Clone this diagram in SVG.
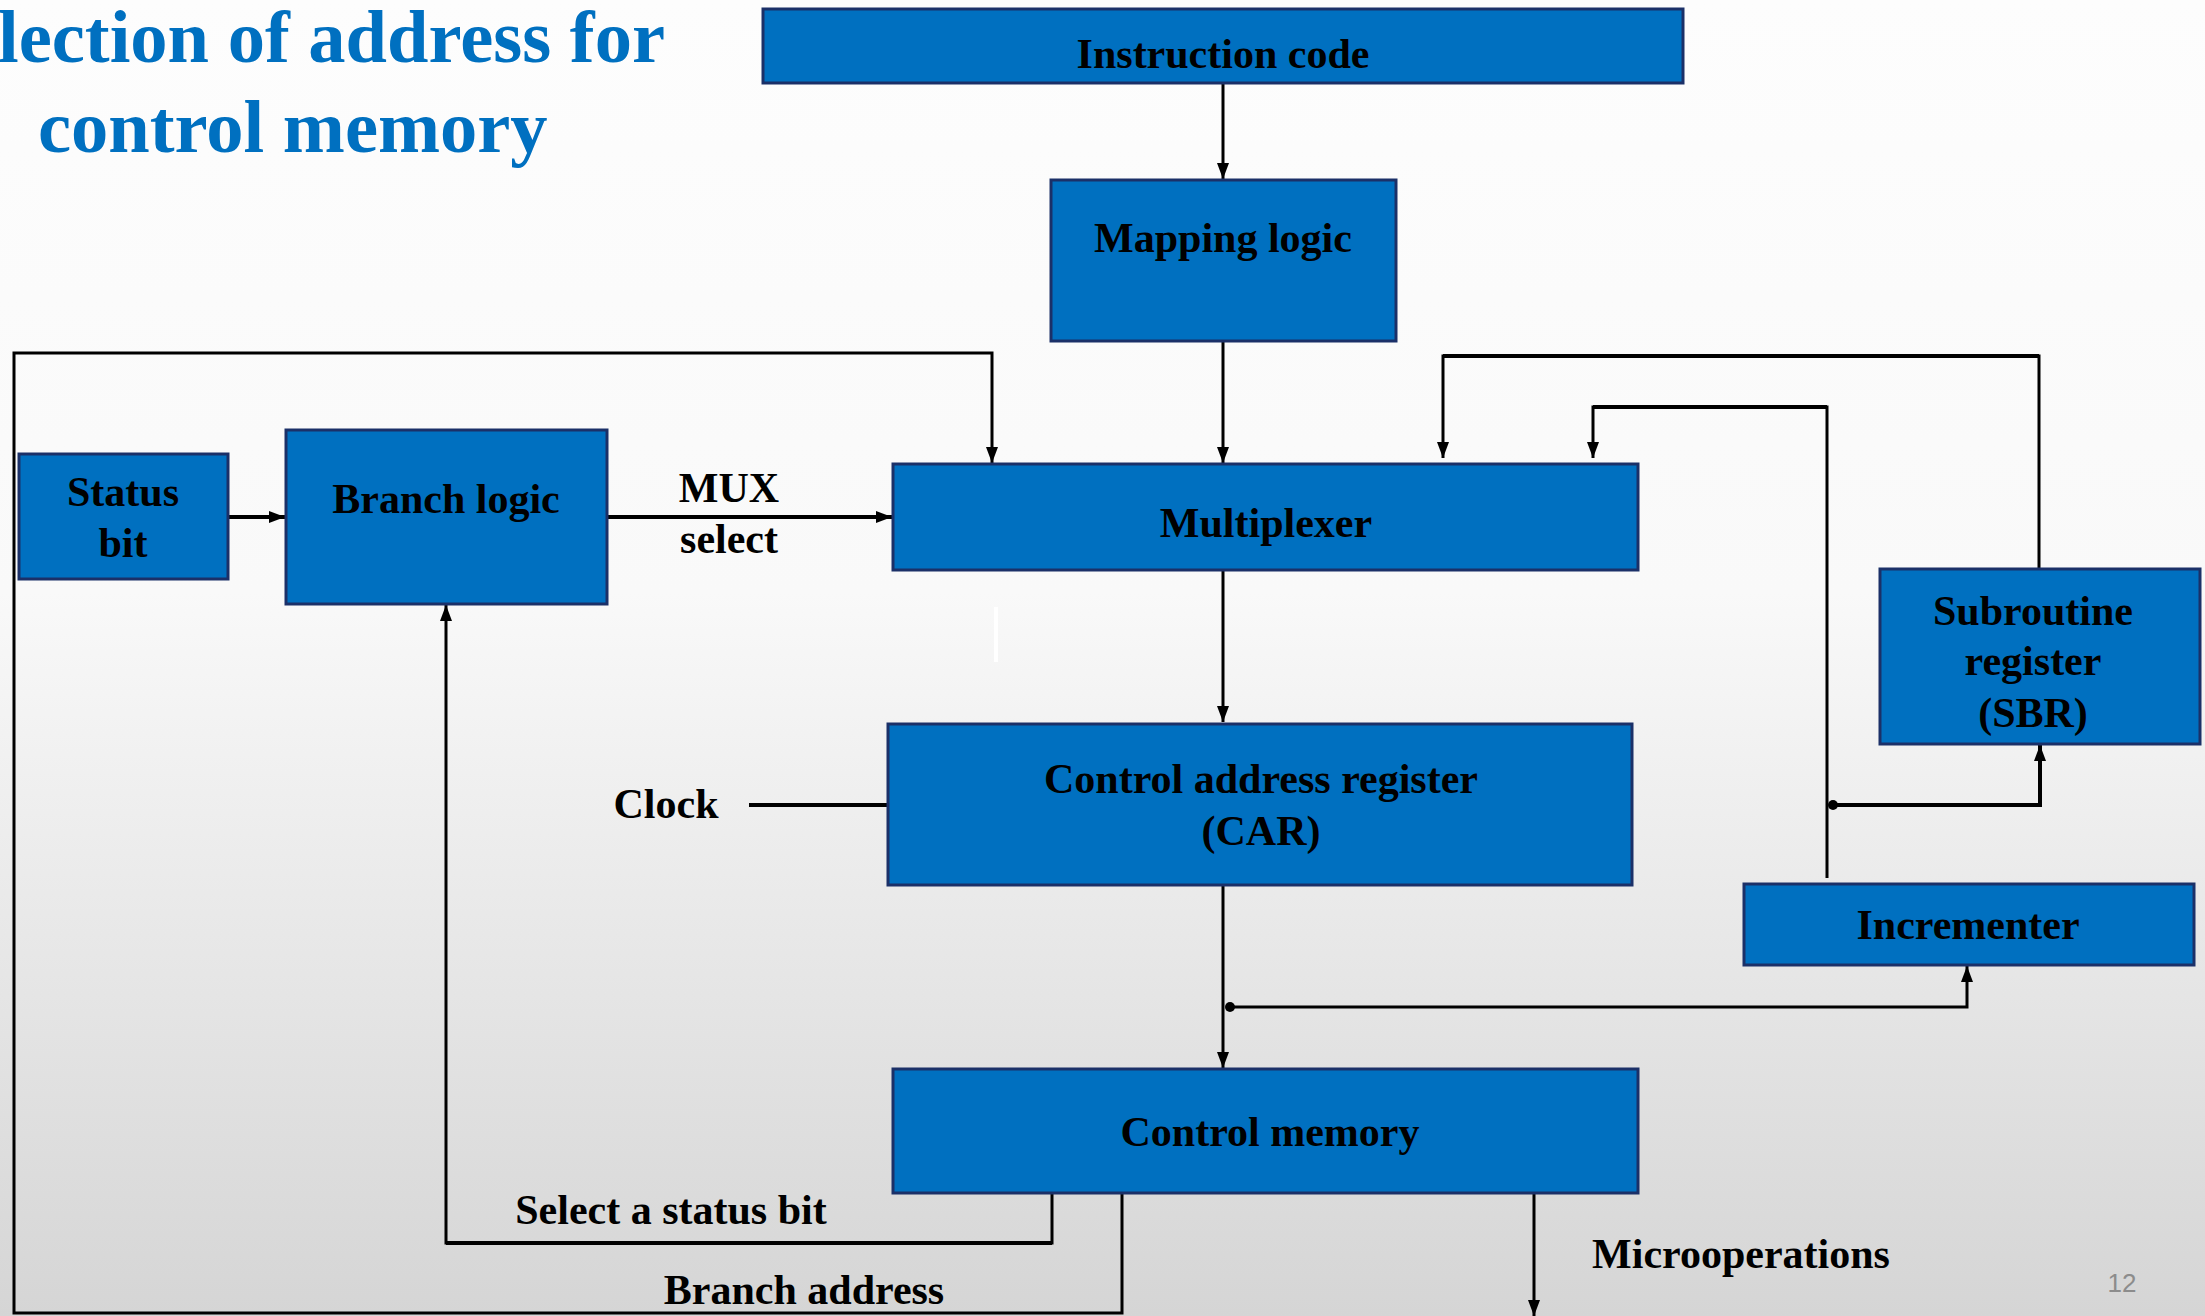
<svg xmlns="http://www.w3.org/2000/svg" width="2205" height="1316" viewBox="0 0 2205 1316">
<defs>
<linearGradient id="bg" x1="0" y1="0" x2="0" y2="1">
<stop offset="0" stop-color="#fdfdfd"/>
<stop offset="0.45" stop-color="#f9f9f9"/>
<stop offset="1" stop-color="#d5d5d5"/>
</linearGradient>
<marker id="ah" markerUnits="userSpaceOnUse" markerWidth="17" markerHeight="13" refX="16" refY="6.5" orient="auto">
<path d="M0,0.5 L16,6.5 L0,12.5 z" fill="#000"/>
</marker>
</defs>
<style>
.box{fill:#0070C0;stroke:#1B3068;stroke-width:3}
.lbl{font-family:"Liberation Serif","Times New Roman",serif;font-weight:bold;font-size:42px;fill:#000;text-anchor:middle}
.title{font-family:"Liberation Serif","Times New Roman",serif;font-weight:bold;font-size:74.5px;fill:#0070C0}
.ln{fill:none;stroke:#000;stroke-width:3}
.thk{stroke-width:4}
</style>
<rect x="0" y="0" width="2205" height="1316" fill="url(#bg)"/>
<text class="title" x="-2" y="62">lection of address for</text>
<text class="title" x="38" y="152">control memory</text>
<rect x="994" y="607" width="4" height="55" fill="#ffffff"/>

<g id="connectors">
<path class="ln" d="M1223,83 V179" marker-end="url(#ah)"/>
<path class="ln" d="M1223,341 V463" marker-end="url(#ah)"/>
<path class="ln thk" d="M228,517 H285" marker-end="url(#ah)"/>
<path class="ln thk" d="M607,517 H892" marker-end="url(#ah)"/>
<path class="ln" d="M1223,570 V722" marker-end="url(#ah)"/>
<path class="ln" d="M1122,1193 V1313 H14 V353 H992 V463" marker-end="url(#ah)"/>
<path class="ln" d="M1052,1193 V1243 H446 V605" marker-end="url(#ah)"/>
<path class="ln thk" d="M1052,1243 H446"/>
<path class="ln" d="M2039,569 V356 H1443 V458" marker-end="url(#ah)"/>
<path class="ln thk" d="M2039,356 H1443"/>
<path class="ln" d="M1827,878 V407 H1593 V458" marker-end="url(#ah)"/>
<path class="ln thk" d="M1827,407 H1593"/>
<path class="ln thk" d="M1833,805 H2040 V745" marker-end="url(#ah)"/>
<circle cx="1833" cy="805" r="5" fill="#000"/>
<path class="ln thk" d="M749,805 H888"/>
<path class="ln" d="M1223,885 V1068" marker-end="url(#ah)"/>
<path class="ln" d="M1230,1007 H1967 V966" marker-end="url(#ah)"/>
<circle cx="1230" cy="1007" r="5" fill="#000"/>
<path class="ln" d="M1534,1193 V1316" marker-end="url(#ah)"/>
</g>

<g id="instruction-code">
<rect class="box" x="763" y="9" width="920" height="74"/>
<text class="lbl" x="1223" y="68">Instruction code</text>
</g>
<g id="mapping-logic">
<rect class="box" x="1051" y="180" width="345" height="161"/>
<text class="lbl" x="1223" y="252">Mapping logic</text>
</g>
<g id="status-bit">
<rect class="box" x="19" y="454" width="209" height="125"/>
<text class="lbl" x="123" y="506">Status</text>
<text class="lbl" x="123" y="557">bit</text>
</g>
<g id="branch-logic">
<rect class="box" x="286" y="430" width="321" height="174"/>
<text class="lbl" x="446" y="513">Branch logic</text>
</g>
<g id="mux-select-label">
<text class="lbl" x="729" y="502">MUX</text>
<text class="lbl" x="729" y="553">select</text>
</g>
<g id="multiplexer">
<rect class="box" x="893" y="464" width="745" height="106"/>
<text class="lbl" x="1266" y="537">Multiplexer</text>
</g>
<g id="sbr">
<rect class="box" x="1880" y="569" width="320" height="175"/>
<text class="lbl" x="2033" y="625">Subroutine</text>
<text class="lbl" x="2033" y="675">register</text>
<text class="lbl" x="2033" y="727">(SBR)</text>
</g>
<g id="clock">
<text class="lbl" x="666" y="818">Clock</text>
</g>
<g id="car">
<rect class="box" x="888" y="724" width="744" height="161"/>
<text class="lbl" x="1261" y="793">Control address register</text>
<text class="lbl" x="1261" y="845">(CAR)</text>
</g>
<g id="incrementer">
<rect class="box" x="1744" y="884" width="450" height="81"/>
<text class="lbl" x="1968" y="939">Incrementer</text>
</g>
<g id="control-memory">
<rect class="box" x="893" y="1069" width="745" height="124"/>
<text class="lbl" x="1270" y="1146">Control memory</text>
</g>
<g id="labels">
<text class="lbl" x="671" y="1224">Select a status bit</text>
<text class="lbl" x="804" y="1304">Branch address</text>
<text class="lbl" x="1741" y="1268">Microoperations</text>
<text x="2122" y="1292" font-family="Liberation Sans, Arial, sans-serif" font-size="26" fill="#8c8c8c" text-anchor="middle">12</text>
</g>
</svg>
